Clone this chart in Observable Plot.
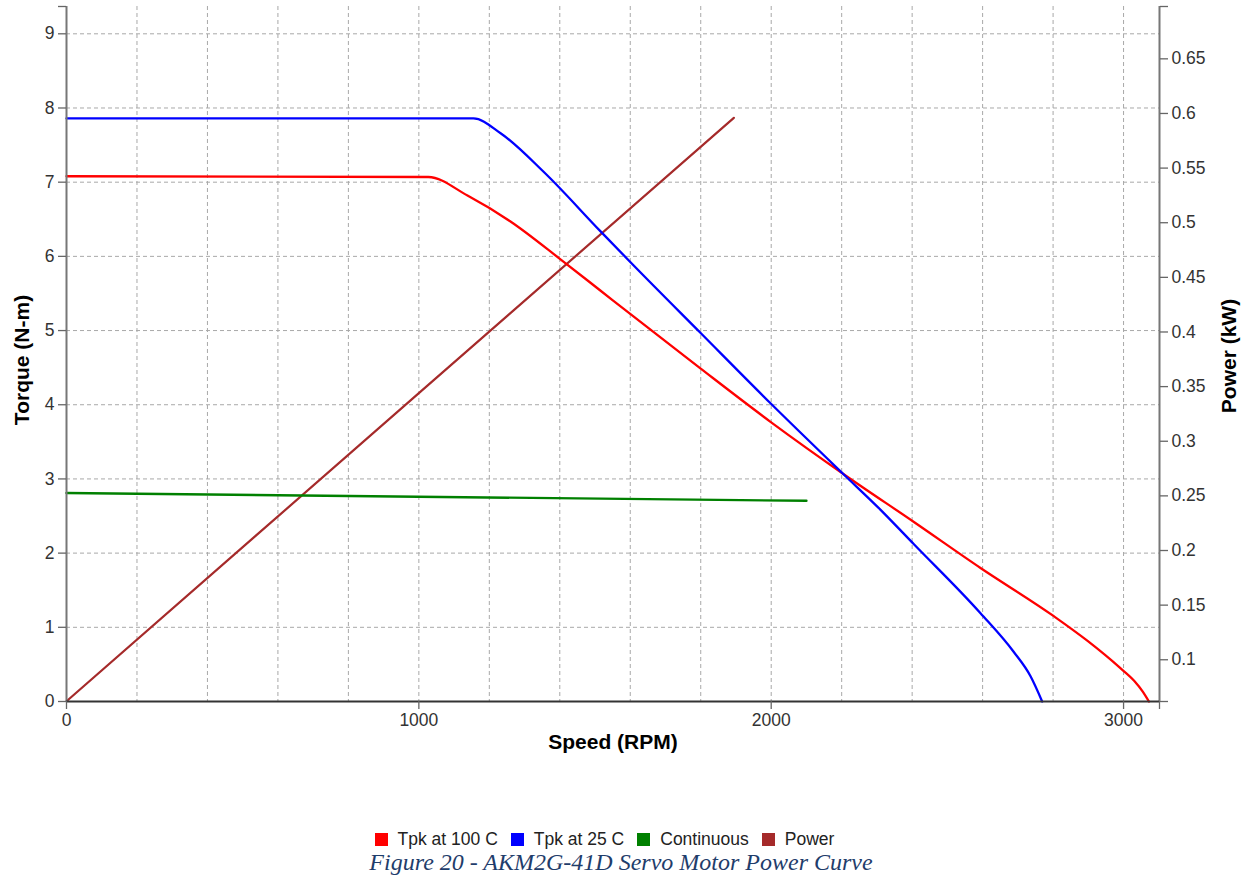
<!DOCTYPE html>
<html><head><meta charset="utf-8">
<script src="https://cdn.jsdelivr.net/npm/d3@7"></script>
<script src="https://cdn.jsdelivr.net/npm/@observablehq/plot@0.6"></script>
<style>
body{margin:0;background:#fff;font-family:"Liberation Sans",Arial,sans-serif;}
#chart svg{display:block}
.legend{display:flex;justify-content:center;align-items:center;margin-top:59px;font-size:17.5px;line-height:20px;color:#222;padding-right:40px;}
.legend .item{display:flex;align-items:center;margin:0 6.5px;}
.legend .sw{display:inline-block;width:13px;height:13px;margin-right:10px;}
.caption{text-align:center;font-family:"Liberation Serif","Times New Roman",serif;font-style:italic;font-size:24px;line-height:26px;color:#1f3d6b;padding-right:7px;}
</style>
</head><body>
<div id="chart"></div>
<div class="legend" id="legend"></div>
<div class="caption">Figure 20 - AKM2G-41D Servo Motor Power Curve</div>
<script>
// ---- data ----
const speedRed   = [0, 1027, 1138, 1260, 1402, 1515, 1609, 1799, 1998, 2216, 2405, 2594, 2802, 2897, 2991, 3030, 3055, 3072];
const torqueRed  = [7.08, 7.07, 6.82, 6.47, 5.96, 5.54, 5.19, 4.49, 3.77, 3.03, 2.42, 1.80, 1.15, 0.82, 0.45, 0.28, 0.13, 0];

const speedBlue  = [0, 1155, 1232, 1354, 1515, 1609, 1799, 1998, 2206, 2309, 2405, 2594, 2688, 2736, 2769];
const torqueBlue = [7.86, 7.86, 7.66, 7.14, 6.34, 5.88, 4.97, 4.02, 3.06, 2.59, 2.12, 1.19, 0.67, 0.34, 0];

const speedCont  = [0, 803, 2100];
const torqueCont = [2.81, 2.77, 2.705];

const speedPower = [0, 1000, 1894];
const powerKW    = [0.062, 0.344, 0.596];

const seriesNames  = ["Tpk at 100 C", "Tpk at 25 C", "Continuous", "Power"];
const seriesColors = ["#ff0000", "#0000ff", "#008000", "#a52a2a"];

const speedTicks = [0, 1000, 2000, 3000];
const speedGrid  = [200,400,600,800,1000,1200,1400,1600,1800,2000,2200,2400,2600,2800,3000];
const torqueTicks = [0,1,2,3,4,5,6,7,8,9];
const torqueGrid  = [1,2,3,4,5,6,7,8,9];
const powerTicks = [0.1,0.15,0.2,0.25,0.3,0.35,0.4,0.45,0.5,0.55,0.6,0.65];

const xDomain = [0, 3102];
const yDomain = [0, 9.368];
const powerDomain = [0.0618, 0.6979];

// ---- build ----
const toT = d3.scaleLinear(powerDomain, yDomain);
const rows = (xs, ys) => xs.map((x, i) => ({x, y: ys[i]}));
const W = 1249, H = 770;
const grid = {stroke:"#a8a8a8", strokeOpacity:1, strokeDasharray:"4,3", strokeWidth:1};
const axisStyle = {tickSize:8, tickPadding:4, label:null, stroke:"#666", fill:"#333", strokeWidth:1.3, tickFormat: d => String(d)};
const none = () => "";

const chart = Plot.plot({
  width: W, height: H,
  marginLeft: 66, marginRight: 90, marginTop: 6, marginBottom: H - 701,
  x: {domain: xDomain},
  y: {domain: yDomain},
  style: {fontFamily: '"Liberation Sans", Arial, sans-serif', fontSize: "17.5px", color: "#333", background: "white", overflow: "visible"},
  marks: [
    Plot.gridX(speedGrid, grid),
    Plot.gridY(torqueGrid, grid),
    Plot.line(rows(speedPower, powerKW.map(toT)), {x:"x", y:"y", stroke: seriesColors[3], strokeWidth: 2.2}),
    Plot.line(rows(speedCont, torqueCont), {x:"x", y:"y", stroke: seriesColors[2], strokeWidth: 2.4}),
    Plot.line(rows(speedRed, torqueRed), {x:"x", y:"y", stroke: seriesColors[0], strokeWidth: 2.3, curve:"monotone-x"}),
    Plot.line(rows(speedBlue, torqueBlue), {x:"x", y:"y", stroke: seriesColors[1], strokeWidth: 2.3, curve:"monotone-x"}),
    Plot.ruleX([xDomain[0]], {stroke:"#777", strokeWidth:2}),
    Plot.ruleX([xDomain[1]], {stroke:"#777", strokeWidth:2}),
    Plot.ruleY([0], {stroke:"#333", strokeWidth:2}),
    Plot.axisX(speedTicks, {...axisStyle}),
    Plot.axisX([xDomain[1]], {...axisStyle, tickFormat: none}),
    Plot.axisY(torqueTicks, {...axisStyle, anchor:"left"}),
    Plot.axisY([yDomain[1]], {...axisStyle, anchor:"left", tickFormat: none}),
    Plot.axisY(powerTicks.map(toT), {...axisStyle, anchor:"right", tickFormat: d => String(+toT.invert(d).toFixed(2))}),
    Plot.axisY([yDomain[1], 0], {...axisStyle, anchor:"right", tickFormat: none}),
    Plot.text(["Speed (RPM)"], {text: d => d, frameAnchor:"bottom", dy:47, fontWeight:"bold", fontSize:21, fill:"#000"}),
    Plot.text(["Torque (N-m)"], {text: d => d, frameAnchor:"left", textAnchor:"middle", dx:-44, dy:6, rotate:-90, fontWeight:"bold", fontSize:21, fill:"#000"}),
    Plot.text(["Power (kW)"], {text: d => d, frameAnchor:"right", textAnchor:"middle", dx:70, dy:2, rotate:-90, fontWeight:"bold", fontSize:21, fill:"#000"})
  ]
});
document.getElementById("chart").append(chart);

const legend = document.getElementById("legend");
seriesNames.forEach((n, i) => {
  const it = document.createElement("span");
  it.className = "item";
  it.innerHTML = `<span class="sw" style="background:${seriesColors[i]}"></span>${n}`;
  legend.append(it);
});
</script>
</body></html>
